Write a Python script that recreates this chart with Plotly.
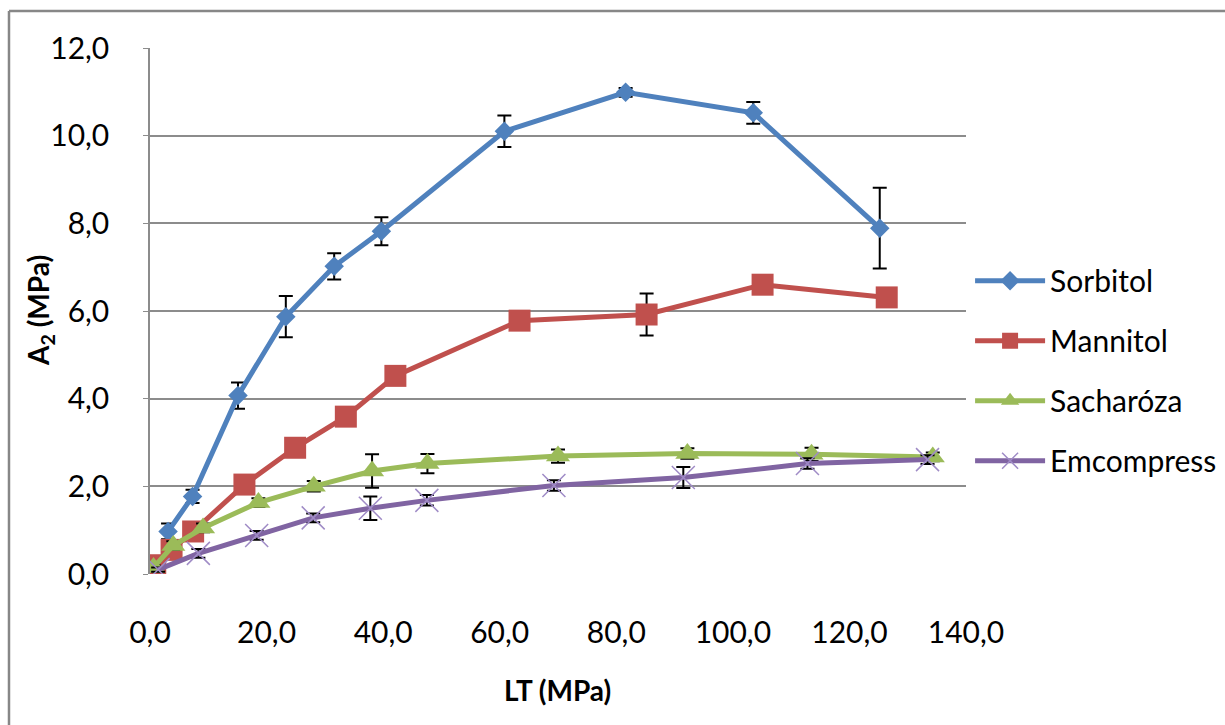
import plotly.graph_objects as go

# ---- data ----
sorb_x = [3.1, 7.3, 15.1, 23.3, 31.6, 39.7, 60.8, 81.6, 103.5, 125.2]
sorb_y = [0.97, 1.77, 4.07, 5.87, 7.02, 7.82, 10.10, 10.99, 10.52, 7.89]
sorb_e = [0.18, 0.15, 0.30, 0.47, 0.30, 0.32, 0.36, 0.10, 0.25, 0.92]

mann_x = [0.9, 3.7, 7.4, 16.2, 24.9, 33.6, 42.1, 63.4, 85.2, 105.1, 126.4]
mann_y = [0.20, 0.55, 0.97, 2.04, 2.88, 3.59, 4.52, 5.78, 5.92, 6.60, 6.31]
mann_e = [0.05, 0.05, 0.10, 0.10, 0.10, 0.10, 0.10, 0.10, 0.48, 0.10, 0.10]

sach_x = [0.6, 4.0, 9.1, 18.6, 28.1, 38.1, 47.6, 70.0, 92.2, 113.5, 134.3]
sach_y = [0.15, 0.65, 1.05, 1.63, 2.00, 2.35, 2.52, 2.69, 2.75, 2.73, 2.67]
sach_e = [0.05, 0.10, 0.10, 0.10, 0.12, 0.38, 0.22, 0.15, 0.12, 0.15, 0.10]

emc_x = [1.4, 8.3, 18.3, 28.0, 37.8, 47.5, 69.3, 91.5, 112.8, 133.4]
emc_y = [0.10, 0.47, 0.88, 1.28, 1.50, 1.68, 2.02, 2.20, 2.52, 2.61]
emc_e = [0.05, 0.10, 0.10, 0.10, 0.27, 0.12, 0.12, 0.24, 0.12, 0.10]

names = ["Sorbitol", "Mannitol", "Sacharóza", "Emcompress"]
x_ticks = [0, 20, 40, 60, 80, 100, 120, 140]
y_ticks = [0, 2, 4, 6, 8, 10, 12]

FONT = "Lato"
err_style = dict(type="data", visible=True, color="black", thickness=2, width=7)

fig = go.Figure()
fig.add_trace(go.Scatter(
    x=sorb_x, y=sorb_y, name=names[0], mode="lines+markers", legendgroup="a",
    line=dict(color="#4F81BD", width=5),
    marker=dict(symbol="diamond", size=15, color="#4F81BD"),
    error_y=dict(array=sorb_e, **err_style)))
fig.add_trace(go.Scatter(
    x=mann_x, y=mann_y, name=names[1], mode="lines+markers", legendgroup="b",
    line=dict(color="#C0504D", width=5),
    marker=dict(symbol="square", size=22, color="#C0504D"),
    error_y=dict(array=mann_e, **err_style)))
fig.add_trace(go.Scatter(
    x=sach_x, y=sach_y, name=names[2], mode="lines+markers", legendgroup="c",
    line=dict(color="#9BBB59", width=5),
    marker=dict(symbol="triangle-up", size=21, color="#9BBB59"),
    error_y=dict(array=sach_e, **err_style)))
fig.add_trace(go.Scatter(
    x=emc_x, y=emc_y, name=names[3], mode="lines+markers", legendgroup="d",
    line=dict(color="#8064A2", width=5),
    marker=dict(symbol="x-thin", size=23, color="#9F8BC6",
                line=dict(color="#9F8BC6", width=1.5)),
    error_y=dict(array=emc_e, **err_style)))

fig.update_layout(
    width=1225, height=725,
    margin=dict(l=150, r=259, t=48, b=151, autoexpand=False),
    paper_bgcolor="white", plot_bgcolor="white",
    separators=", ",
    font=dict(family=FONT, size=30, color="black"),
    showlegend=True,
    legend=dict(x=1.005, xanchor="left", y=0.607, yanchor="top",
                font=dict(family=FONT, size=30, color="black"),
                traceorder="grouped", tracegroupgap=18, itemwidth=70,
                bgcolor="rgba(0,0,0,0)"),
    xaxis=dict(range=[0, 140], tickvals=x_ticks, tickformat=".1f",
               showgrid=False, zeroline=False, showline=False,
               ticks="", ticklabelstandoff=38,
               tickfont=dict(family=FONT, size=30, color="black")),
    yaxis=dict(range=[0, 12], tickvals=y_ticks, tickformat=".1f",
               showgrid=True, gridcolor="#8C8C8C", gridwidth=1.5,
               zeroline=False, showline=True, linecolor="#8C8C8C", linewidth=1.5,
               ticks="outside", ticklen=5, tickcolor="#8C8C8C", ticklabelstandoff=28,
               tickfont=dict(family=FONT, size=30, color="black")),
    annotations=[
        dict(text="A<sub>2</sub> (MPa)", xref="paper", yref="paper",
             x=-0.1348, y=0.5, textangle=-90, showarrow=False,
             xanchor="center", yanchor="middle",
             font=dict(family=FONT, size=28, color="black", weight="bold")),
        dict(text="LT (MPa)", xref="paper", yref="paper",
             x=0.499, y=-0.2205, showarrow=False,
             xanchor="center", yanchor="middle",
             font=dict(family=FONT, size=28, color="black", weight="bold")),
    ],
    shapes=[
        dict(type="line", xref="paper", yref="paper",
             x0=-0.1728, x1=1.4, y0=1.0703, y1=1.0703,
             line=dict(color="#878787", width=2.5)),
        dict(type="line", xref="paper", yref="paper",
             x0=-0.1728, x1=-0.1728, y0=1.0703, y1=-0.4,
             line=dict(color="#878787", width=2.5)),
    ],
)

fig.write_html("out.html")
